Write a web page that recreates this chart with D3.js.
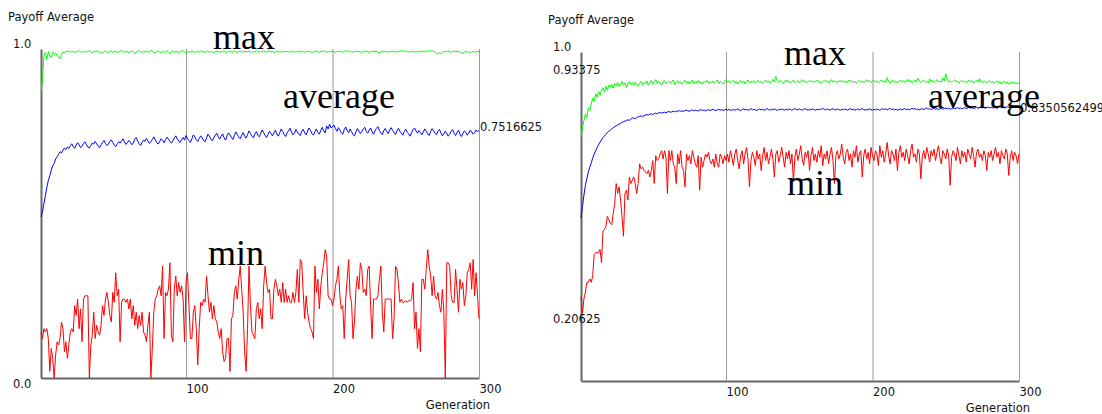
<!DOCTYPE html>
<html>
<head>
<meta charset="utf-8">
<script src="https://d3js.org/d3.v7.min.js"></script>
<style>
body { margin: 0; background: #fff; }
</style>
</head>
<body>
<div id="chart"></div>
<script>
// generations on the x axis
var generations = d3.range(1, 301);
var xTicks = [100, 200, 300];

// left run: best / average / worst payoff per generation
var leftMax = [
.868,.905,.980,.990,.968,.992,.978,.975,.990,.983,.988,.981,.974,.970,.984,.991,.989,.994,.991,.993,
.990,.994,.992,.988,.993,.991,.995,.992,.989,.994,.990,.993,.991,.996,.992,.988,.993,.991,.994,.990,
.993,.989,.986,.992,.994,.991,.989,.995,.993,.990,.992,.994,.988,.991,.993,.996,.992,.990,.994,.991,
.989,.992,.994,.990,.985,.991,.993,.995,.992,.989,.993,.991,.994,.990,.992,.996,.993,.990,.988,.992,
.994,.991,.989,.993,.990,.992,.995,.991,.986,.992,.994,.990,.993,.991,.989,.994,.992,.996,.990,.992,
.988,.993,.991,.994,.992,.989,.993,.990,.992,.995,.991,.993,.989,.992,.994,.990,.993,.991,.988,.992,
.994,.991,.993,.990,.992,.994,.991,.989,.993,.991,.992,.990,.994,.992,.989,.993,.991,.994,.990,.992,
.993,.991,.994,.992,.989,.993,.991,.995,.992,.990,.993,.991,.994,.992,.990,.993,.995,.991,.992,.989,
.992,.994,.991,.993,.990,.992,.994,.991,.993,.990,.994,.992,.991,.993,.990,.992,.994,.991,.993,.992,
.990,.993,.991,.994,.992,.989,.993,.991,.994,.992,.990,.993,.991,.995,.992,.990,.993,.991,.994,.992,
.992,.989,.993,.991,.994,.992,.990,.993,.994,.994,.994,.991,.993,.990,.992,.994,.991,.993,.991,.990,
.993,.991,.994,.992,.990,.993,.991,.994,.992,.993,.991,.986,.992,.994,.991,.993,.992,.990,.993,.991,
.994,.992,.990,.993,.991,.994,.994,.994,.994,.994,.992,.990,.993,.991,.994,.992,.990,.993,.991,.994,
.992,.993,.991,.994,.994,.994,.994,.994,.993,.991,.986,.984,.988,.986,.990,.992,.993,.991,.994,.992,
.990,.993,.991,.994,.992,.993,.991,.989,.985,.991,.993,.990,.992,.987,.991,.993,.990,.992,.994,.991
];
var leftAvg = [
.490,.505,.530,.555,.580,.600,.615,.632,.645,.652,.666,.672,.680,.688,.684,.693,.699,.695,.702,.698,
.706,.712,.703,.698,.708,.715,.709,.700,.704,.713,.718,.709,.702,.699,.707,.714,.711,.719,.712,.705,
.700,.709,.716,.722,.713,.706,.711,.719,.724,.716,.708,.703,.712,.718,.714,.721,.727,.717,.710,.715,
.722,.717,.709,.714,.726,.731,.720,.712,.707,.716,.723,.719,.728,.721,.713,.718,.725,.733,.724,.716,
.711,.719,.727,.722,.715,.724,.732,.726,.719,.714,.721,.729,.736,.727,.720,.716,.725,.731,.723,.737,
.728,.722,.716,.727,.739,.733,.724,.719,.728,.736,.730,.722,.718,.729,.741,.735,.726,.721,.731,.738,
.744,.733,.726,.735,.742,.730,.723,.736,.745,.739,.731,.725,.737,.748,.740,.732,.727,.738,.746,.735,
.729,.740,.751,.743,.735,.730,.742,.749,.738,.733,.744,.754,.746,.737,.731,.741,.750,.743,.736,.745,
.753,.741,.735,.746,.757,.749,.740,.734,.745,.752,.759,.747,.739,.744,.755,.748,.741,.737,.750,.756,
.745,.739,.751,.760,.752,.743,.738,.749,.757,.746,.741,.753,.762,.751,.745,.766,.757,.771,.760,.764,
.769,.758,.750,.761,.754,.745,.741,.755,.763,.752,.746,.757,.749,.740,.736,.748,.758,.751,.743,.749,
.757,.762,.750,.744,.753,.760,.748,.741,.751,.759,.764,.752,.745,.740,.752,.758,.749,.743,.754,.761,
.753,.746,.740,.751,.759,.750,.744,.738,.749,.756,.747,.742,.735,.746,.755,.760,.751,.744,.752,.746,
.739,.748,.757,.750,.742,.737,.749,.758,.751,.744,.740,.751,.756,.745,.736,.742,.750,.744,.735,.741,
.750,.755,.744,.737,.746,.753,.741,.734,.743,.751,.747,.738,.744,.753,.748,.741,.746,.754,.749,.752
];
var leftMin = [
.14,.12,.15,.14,.15,.12,.02,.09,.06,.00,.07,.11,.10,.12,.17,.15,.08,.11,.06,.10,
.14,.15,.14,.22,.19,.24,.15,.21,.11,.24,.25,.25,.25,.00,.10,.13,.20,.12,.16,.14,
.13,.16,.22,.19,.24,.26,.23,.19,.17,.26,.23,.32,.25,.27,.11,.23,.24,.24,.23,.24,
.21,.24,.18,.22,.16,.20,.15,.19,.16,.20,.14,.13,.11,.16,.20,.00,.09,.20,.24,.25,
.27,.28,.25,.34,.12,.26,.25,.27,.35,.13,.11,.27,.31,.25,.29,.26,.28,.24,.11,.29,
.32,.22,.12,.12,.20,.22,.15,.04,.15,.23,.22,.24,.23,.31,.25,.20,.23,.18,.22,.18,
.17,.14,.12,.15,.08,.05,.06,.12,.12,.02,.18,.19,.26,.28,.24,.30,.34,.27,.20,.08,
.02,.15,.34,.22,.14,.13,.12,.21,.23,.18,.21,.15,.28,.34,.29,.26,.27,.18,.18,.27,
.30,.28,.25,.27,.23,.29,.23,.27,.23,.25,.23,.23,.26,.23,.26,.33,.23,.36,.35,.26,
.18,.25,.20,.17,.15,.14,.12,.34,.26,.30,.21,.28,.32,.35,.39,.37,.25,.24,.24,.22,
.24,.28,.30,.34,.25,.21,.22,.12,.24,.30,.36,.25,.23,.12,.17,.27,.31,.27,.35,.33,
.26,.27,.25,.33,.34,.22,.12,.24,.24,.24,.25,.30,.34,.20,.14,.24,.24,.24,.24,.24,
.12,.18,.34,.33,.29,.23,.24,.23,.23,.235,.23,.235,.235,.24,.29,.15,.20,.09,.15,.08,
.30,.30,.27,.33,.39,.34,.31,.25,.31,.25,.24,.26,.22,.20,.27,.20,.00,.35,.35,.34,
.25,.23,.23,.33,.27,.20,.30,.27,.29,.22,.25,.32,.33,.35,.27,.36,.25,.32,.25,.18
];

// right run
var rightMax = [
.742,.770,.792,.812,.800,.830,.822,.842,.860,.850,.873,.862,.880,.868,.885,.892,.878,.896,.884,.900,
.893,.902,.890,.905,.897,.908,.895,.903,.911,.899,.906,.893,.904,.910,.901,.907,.898,.909,.902,.896,
.905,.911,.900,.908,.903,.912,.899,.907,.914,.902,.909,.916,.904,.911,.906,.899,.910,.913,.903,.908,
.912,.904,.909,.915,.901,.908,.913,.905,.910,.902,.907,.914,.906,.911,.903,.909,.915,.904,.910,.907,
.913,.905,.909,.902,.911,.907,.914,.904,.910,.906,.912,.903,.909,.915,.905,.911,.907,.902,.910,.916,
.908,.912,.905,.910,.914,.906,.911,.903,.909,.913,.907,.912,.904,.910,.915,.906,.911,.908,.913,.905,
.910,.914,.907,.911,.904,.909,.915,.908,.912,.906,.910,.917,.909,.926,.911,.907,.913,.909,.904,.911,
.915,.908,.912,.906,.911,.914,.907,.910,.913,.905,.911,.916,.908,.912,.906,.910,.914,.909,.912,.907,
.911,.915,.908,.912,.905,.910,.914,.909,.913,.906,.911,.916,.908,.912,.910,.907,.913,.909,.914,.908,
.912,.906,.911,.915,.909,.913,.907,.911,.904,.910,.914,.908,.912,.906,.911,.916,.909,.913,.907,.911,
.914,.908,.912,.906,.910,.915,.909,.913,.907,.922,.910,.905,.911,.914,.908,.912,.906,.910,.915,.909,
.913,.907,.911,.917,.909,.913,.906,.911,.915,.908,.920,.912,.907,.911,.914,.908,.912,.906,.918,.910,
.913,.907,.911,.916,.909,.912,.908,.921,.912,.934,.915,.909,.913,.907,.911,.916,.909,.912,.906,.910,
.914,.908,.912,.907,.911,.915,.909,.913,.906,.910,.914,.908,.919,.911,.907,.912,.909,.905,.911,.913,
.907,.910,.904,.909,.912,.906,.910,.903,.908,.911,.905,.909,.902,.907,.910,.904,.908,.903,.906,.905
];
var rightAvg = [
.495,.530,.565,.595,.615,.635,.650,.663,.678,.690,.700,.710,.718,.726,.733,.740,.745,.750,.755,.759,
.763,.766,.770,.773,.776,.778,.781,.783,.786,.788,.790,.792,.794,.792,.796,.799,.800,.797,.801,.803,
.804,.806,.803,.807,.808,.810,.808,.811,.812,.810,.813,.814,.812,.815,.816,.814,.816,.817,.815,.818,
.819,.817,.818,.820,.818,.821,.819,.822,.820,.821,.819,.822,.823,.821,.820,.822,.824,.821,.823,.822,
.821,.823,.825,.822,.824,.821,.823,.825,.822,.824,.826,.823,.822,.824,.826,.823,.825,.822,.824,.826,
.823,.825,.824,.822,.826,.823,.825,.827,.824,.822,.825,.827,.824,.826,.823,.825,.828,.824,.826,.824,
.822,.825,.827,.824,.826,.823,.825,.828,.825,.823,.826,.824,.827,.825,.822,.826,.824,.827,.825,.823,
.826,.824,.827,.825,.823,.826,.828,.825,.824,.827,.825,.823,.826,.828,.825,.823,.826,.824,.827,.825,
.823,.826,.824,.827,.825,.829,.826,.824,.827,.825,.823,.826,.828,.825,.824,.827,.825,.823,.826,.824,
.827,.825,.823,.826,.828,.824,.826,.823,.825,.827,.824,.826,.828,.825,.823,.826,.824,.827,.825,.823,
.826,.824,.827,.825,.823,.826,.828,.825,.827,.824,.826,.829,.825,.827,.824,.826,.823,.825,.827,.824,
.826,.828,.825,.827,.824,.826,.829,.826,.828,.825,.827,.824,.826,.828,.825,.827,.830,.826,.828,.825,
.827,.829,.826,.828,.825,.827,.829,.826,.828,.830,.827,.829,.826,.828,.830,.827,.829,.831,.828,.830,
.827,.829,.831,.828,.830,.832,.829,.831,.828,.830,.832,.829,.831,.833,.830,.832,.829,.831,.833,.830,
.832,.830,.833,.831,.829,.832,.834,.831,.833,.830,.832,.834,.831,.833,.835,.832,.834,.832,.833,.835
];
var rightMin = [
.256,.206,.250,.270,.300,.300,.310,.300,.320,.385,.390,.390,.390,.400,.360,.456,.460,.470,.500,.490,
.480,.475,.510,.540,.600,.570,.590,.550,.500,.440,.570,.580,.550,.620,.600,.610,.620,.600,.570,.600,
.660,.645,.650,.640,.635,.630,.640,.620,.640,.670,.600,.685,.670,.675,.690,.700,.675,.700,.680,.570,
.700,.670,.700,.660,.650,.600,.690,.660,.700,.650,.640,.590,.690,.670,.685,.660,.700,.680,.660,.650,
.685,.580,.680,.650,.670,.690,.680,.695,.670,.660,.675,.650,.690,.660,.650,.690,.680,.660,.685,.670,
.690,.665,.700,.680,.655,.690,.705,.670,.645,.685,.700,.660,.690,.710,.675,.590,.670,.695,.680,.655,
.700,.675,.690,.640,.685,.710,.670,.695,.660,.680,.705,.675,.620,.690,.700,.665,.685,.710,.680,.650,
.695,.675,.700,.660,.690,.605,.680,.705,.670,.690,.715,.675,.655,.695,.680,.700,.640,.685,.710,.670,
.690,.665,.700,.680,.715,.655,.690,.675,.700,.660,.690,.710,.670,.600,.685,.700,.675,.690,.720,.680,
.660,.695,.705,.670,.690,.650,.700,.680,.715,.665,.690,.700,.620,.685,.705,.675,.695,.660,.710,.685,
.670,.700,.690,.655,.715,.680,.700,.665,.690,.725,.685,.660,.700,.690,.670,.705,.640,.695,.715,.680,
.695,.670,.705,.685,.660,.700,.720,.680,.690,.665,.705,.690,.615,.685,.700,.675,.710,.690,.665,.700,
.685,.705,.670,.695,.715,.680,.660,.700,.690,.675,.705,.685,.595,.680,.700,.690,.670,.710,.685,.660,
.700,.680,.695,.665,.705,.690,.675,.710,.685,.650,.695,.705,.680,.690,.670,.700,.685,.640,.695,.680,
.700,.670,.690,.710,.680,.695,.660,.700,.685,.675,.705,.690,.625,.680,.700,.670,.695,.685,.660,.690
];

// values written on the y axis, and the last average printed at the right end
var leftYLabels = [1.0, 0.0];
var rightYLabels = [1.0, 0.93375, 0.20625];
var leftEndLabel = "0.7516625";
var rightEndLabel = "0.8350562499999999";

var seriesColors = { max: "#00ff00", avg: "#0000ff", min: "#ff0000" };

var panels = [
  { dx: 0, dy: 0, max: leftMax, avg: leftAvg, min: leftMin,
    yLabels: leftYLabels, endLabel: leftEndLabel, endShift: 0,
    notes: [["max", 213, 49], ["average", 283, 108], ["min", 208, 265]] },
  { dx: 540, dy: 3, max: rightMax, avg: rightAvg, min: rightMin,
    yLabels: rightYLabels, endLabel: rightEndLabel, endShift: 6,
    notes: [["max", 244, 62], ["average", 388, 105], ["min", 247, 192]] }
];

var width = 1102, height = 414;
var plot = { left: 41, right: 479, top: 49, bottom: 378 };
var smallFont = "11.5px";

var svg = d3.select("#chart").append("svg")
  .attr("width", width)
  .attr("height", height)
  .style("font-family", "'DejaVu Sans', sans-serif");

panels.forEach(function (p) {
  var g = svg.append("g")
    .attr("transform", "translate(" + p.dx + "," + p.dy + ")");

  var x = d3.scaleLinear().domain([1, 300]).range([plot.left, plot.right]);
  var y = d3.scaleLinear().domain([0, 1]).range([plot.bottom, plot.top]);

  // x axis with full height grid lines
  var xAxis = d3.axisBottom(x)
    .tickValues(xTicks)
    .tickSize(-(plot.bottom - plot.top))
    .tickSizeOuter(0)
    .tickPadding(7)
    .tickFormat(d3.format("d"));

  var ax = g.append("g")
    .attr("transform", "translate(0," + plot.bottom + ")")
    .call(xAxis)
    .attr("font-family", null)
    .attr("font-size", null);
  ax.selectAll(".tick line").attr("stroke", "#9a9a9a");
  ax.selectAll(".tick text")
    .attr("text-anchor", "start")
    .attr("fill", "#111")
    .style("font-size", smallFont);
  ax.select(".domain").attr("stroke", "#666").attr("stroke-width", 2);

  // y axis is just a line
  var ay = g.append("g")
    .attr("transform", "translate(" + plot.left + ",0)")
    .call(d3.axisLeft(y).tickValues([]).tickSizeOuter(0));
  ay.select(".domain").attr("stroke", "#666").attr("stroke-width", 2);

  // y labels: the upper ones sit on their value, the lowest hangs below it
  var lowest = d3.min(p.yLabels);
  g.selectAll(".ylab")
    .data(p.yLabels)
    .enter().append("text")
    .attr("class", "ylab")
    .attr("x", 13)
    .attr("y", function (d) { return d === lowest ? y(d) + 10 : y(d) - (d === 1 ? 1 : 0); })
    .attr("fill", "#111")
    .style("font-size", smallFont)
    .text(function (d) { return (d === 1 || d === 0) ? d.toFixed(1) : String(d); });

  // titles
  g.append("text")
    .attr("x", 8).attr("y", 21)
    .attr("fill", "#111")
    .style("font-size", smallFont)
    .text("Payoff Average");
  g.append("text")
    .attr("x", plot.right + 11).attr("y", plot.bottom + 31)
    .attr("text-anchor", "end")
    .attr("fill", "#111")
    .style("font-size", smallFont)
    .text("Generation");

  // the three series
  var line = d3.line()
    .x(function (d, i) { return x(generations[i]); })
    .y(function (d) { return y(d); });

  ["max", "avg", "min"].forEach(function (key) {
    g.append("path")
      .datum(p[key])
      .attr("fill", "none")
      .attr("stroke", seriesColors[key])
      .attr("stroke-width", 1)
      .attr("d", line);
  });

  // last average value at the right end
  var last = p.avg[p.avg.length - 1];
  g.append("text")
    .attr("x", x(300) + 1)
    .attr("y", y(last) + p.endShift)
    .attr("fill", "#111")
    .style("font-size", smallFont)
    .text(p.endLabel);

  // big series names
  g.selectAll(".note")
    .data(p.notes)
    .enter().append("text")
    .attr("class", "note")
    .attr("x", function (d) { return d[1]; })
    .attr("y", function (d) { return d[2]; })
    .style("font-family", "'Liberation Serif', 'Times New Roman', serif")
    .style("font-size", "36px")
    .attr("fill", "#000")
    .text(function (d) { return d[0]; });
});
</script>
</body>
</html>
